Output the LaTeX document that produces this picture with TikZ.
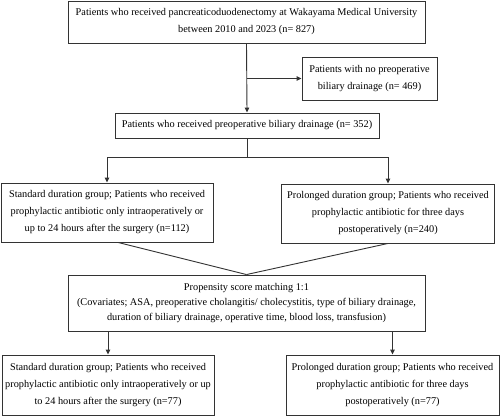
\documentclass[tikz,border=0pt]{standalone}
\usepackage{fontspec}
\setmainfont{Liberation Serif}
\usetikzlibrary{arrows.meta}
\definecolor{boxc}{gray}{0.2}
\begin{document}
\begin{tikzpicture}[x=1pt,y=-1pt,
  box/.style={draw=boxc, line width=0.9pt, align=center, inner sep=0pt,
    font=\fontsize{10.3}{17}\selectfont, text=black},
  conn/.style={draw=boxc, line width=0.9pt},
  arr/.style={conn, -{Triangle[length=5pt,width=4.5pt]}}]
\useasboundingbox (0,0) rectangle (500,417);
\node[box, minimum width=357pt, minimum height=42pt] (b1) at (246.5,22)
  {Patients who received pancreaticoduodenectomy at Wakayama Medical University\\between 2010 and 2023 (n= 827)};
\node[box, minimum width=135pt, minimum height=43pt] (b2) at (369.5,78.5)
  {Patients with no preoperative\\biliary drainage (n= 469)};
\node[box, minimum width=264pt, minimum height=25pt] (b3) at (247,125.5)
  {Patients who received preoperative biliary drainage (n= 352)};
\node[box, minimum width=212pt, minimum height=59pt] (b4) at (107,212.5)
  {Standard duration group; Patients who received\\prophylactic antibiotic only intraoperatively or\\up to 24 hours after the surgery (n=112)};
\node[box, minimum width=213pt, minimum height=59pt] (b5) at (388,213.5)
  {Prolonged duration group; Patients who received\\prophylactic antibiotic for three days\\postoperatively (n=240)};
\node[box, minimum width=357pt, minimum height=56pt, font=\fontsize{10.3}{15}\selectfont] (b6) at (246.5,303)
  {Propensity score matching 1:1\\(Covariates; ASA, preoperative cholangitis/ cholecystitis, type of biliary drainage,\\duration of biliary drainage, operative time, blood loss, transfusion)};
\node[box, minimum width=212pt, minimum height=60pt] (b7) at (108,385)
  {Standard duration group; Patients who received\\prophylactic antibiotic only intraoperatively or up\\to 24 hours after the surgery (n=77)};
\node[box, minimum width=213pt, minimum height=60pt] (b8) at (392.5,385)
  {Prolonged duration group; Patients who received\\prophylactic antibiotic for three days\\postoperatively (n=77)};
% connectors
\draw[arr] (b1.south) -- (b3.north);
\coordinate (br) at (b1.south |- b2.west);
\draw[arr] (br) -- (b2.west);
\coordinate (sp) at (247,157);
\draw[conn] (b3.south) -- (sp);
\draw[arr] (sp) -| (b4.north);
\draw[arr] (sp) -| (b5.north);
\coordinate (mg) at (b6.north);
\draw[conn] ([xshift=11pt]b4.south) -- (mg);
\draw[conn] (b5.south) -- (mg);
\draw[arr] (b6.south -| b7.north) -- (b7.north);
\draw[arr] (b6.south -| b8.north) -- (b8.north);
\end{tikzpicture}
\end{document}
